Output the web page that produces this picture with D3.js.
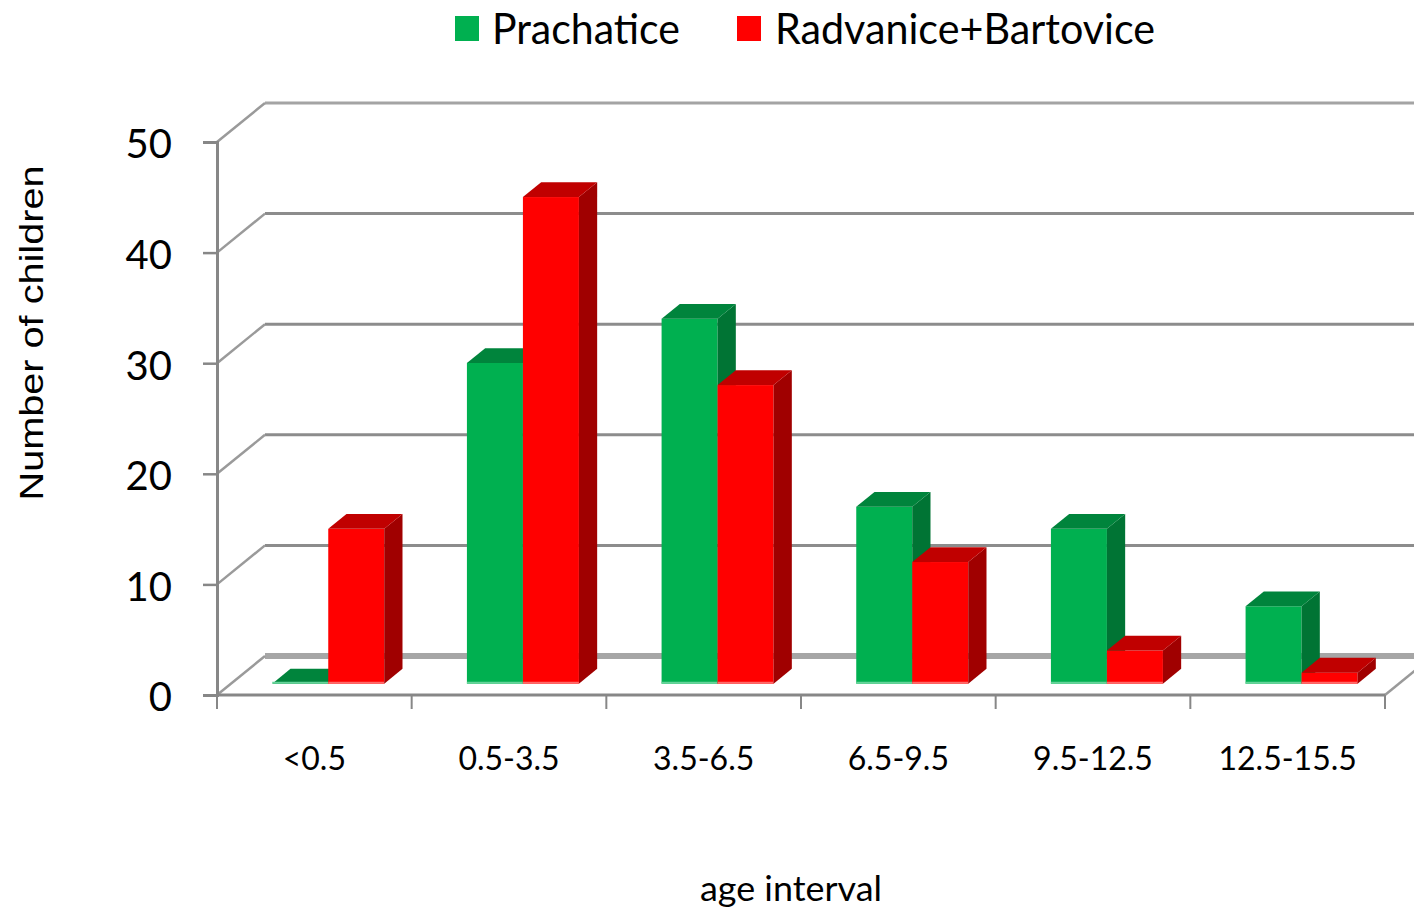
<!DOCTYPE html>
<html>
<head>
<meta charset="utf-8">
<script src="https://cdn.jsdelivr.net/npm/d3@7"></script>
<style>
  html, body { margin: 0; padding: 0; background: #fff; }
  svg { display: block; }
</style>
</head>
<body>
<svg id="chart" width="1414" height="911"></svg>
<script>
const categories = ["<0.5", "0.5-3.5", "3.5-6.5", "6.5-9.5", "9.5-12.5", "12.5-15.5"];
const seriesNames = ["Prachatice", "Radvanice+Bartovice"];
const prachatice = [0, 29, 33, 16, 14, 7];
const radvanice = [14, 44, 27, 11, 3, 1];
const yTicks = [0, 10, 20, 30, 40, 50];
const yTitle = "Number of children";
const xTitle = "age interval";

const seriesValues = [prachatice, radvanice];
const colors = {
  front: ["#00b050", "#ff0000"],
  top: ["#00843c", "#c00000"],
  side: ["#007434", "#a00000"],
  edge: ["#66d49a", "#ff6a6a"]
};

const svg = d3.select("#chart");
const W = 1414, H = 911;

// geometry of the 3D frame
const x0 = d3.scaleBand().domain(categories).range([217, 1385]).padding(0);
const x1 = d3.scaleBand().domain(seriesNames).range([0, x0.bandwidth()]).paddingInner(0).paddingOuter(0.738);
const y = d3.scaleLinear().domain([0, 50]).range([695, 142]);
const DX = 48, DY = -39;      // depth vector (front -> back wall)
const f0 = 0.29, f1 = 0.67;   // bar depth position

const grid = svg.append("g");

// back wall gridlines
yTicks.forEach(t => {
  const yy = y(t) + DY;
  grid.append("line")
    .attr("x1", x0.range()[0] + DX).attr("x2", W + 10)
    .attr("y1", yy).attr("y2", yy)
    .attr("stroke", t === 0 ? "#a6a6a6" : (t === 50 ? "#a4a4a4" : "#8c8c8c"))
    .attr("stroke-width", t === 0 ? 6 : 3);
  // left wall diagonals
  grid.append("line")
    .attr("x1", x0.range()[0]).attr("y1", y(t))
    .attr("x2", x0.range()[0] + DX).attr("y2", yy)
    .attr("stroke", "#9a9a9a").attr("stroke-width", 2.5);
});
// right floor diagonal
grid.append("line")
  .attr("x1", x0.range()[1]).attr("y1", y(0))
  .attr("x2", x0.range()[1] + DX).attr("y2", y(0) + DY)
  .attr("stroke", "#9a9a9a").attr("stroke-width", 2.5);

// front y axis
const yAxis = d3.axisLeft(y).tickValues(yTicks).tickSize(14).tickPadding(31);
const yAxisG = svg.append("g").attr("transform", `translate(${x0.range()[0]},0)`).call(yAxis);
yAxisG.select(".domain").attr("stroke", "#878787").attr("stroke-width", 3);
yAxisG.selectAll(".tick line").attr("stroke", "#878787").attr("stroke-width", 2.5);
yAxisG.selectAll(".tick text")
  .attr("font-family", "Lato, 'Open Sans', sans-serif")
  .attr("font-size", 40).attr("fill", "#000")
  .attr("y", 3);

// floor front edge + category boundary ticks
svg.append("line")
  .attr("x1", x0.range()[0]).attr("x2", x0.range()[1])
  .attr("y1", y(0)).attr("y2", y(0))
  .attr("stroke", "#878787").attr("stroke-width", 3);
const bounds = categories.map(c => x0(c)).concat([x0.range()[1]]);
svg.append("g").selectAll("line").data(bounds).join("line")
  .attr("x1", d => d).attr("x2", d => d)
  .attr("y1", y(0)).attr("y2", y(0) + 14)
  .attr("stroke", "#878787").attr("stroke-width", 2);

// category labels
const xAxis = d3.axisBottom(x0).tickSize(0).tickPadding(0);
const xAxisG = svg.append("g").attr("transform", `translate(0,${y(0)})`).call(xAxis);
xAxisG.select(".domain").remove();
xAxisG.selectAll(".tick text")
  .attr("y", 75).attr("dy", 0)
  .attr("font-family", "Lato, 'Open Sans', sans-serif")
  .attr("font-size", 32).attr("fill", "#000");

// bars
const barsG = svg.append("g");
const w = x1.bandwidth();
const ddx = DX * (f1 - f0), ddy = DY * (f1 - f0);
categories.forEach((c, i) => {
  seriesNames.forEach((s, j) => {
    const v = seriesValues[j][i];
    const xl = x0(c) + x1(s) + DX * f0;
    const yt = y(v) + DY * f0;
    const yb = y(0) + DY * f0;
    const g = barsG.append("g");
    if (v > 0) {
      g.append("rect").attr("x", xl).attr("y", yt).attr("width", w).attr("height", yb - yt)
        .attr("fill", colors.front[j]);
      g.append("line").attr("x1", xl).attr("x2", xl + w).attr("y1", yb - 1).attr("y2", yb - 1)
        .attr("stroke", colors.edge[j]).attr("stroke-width", 2);
    }
    g.append("polygon")
      .attr("points", [[xl + w, yt], [xl + w + ddx, yt + ddy], [xl + w + ddx, yb + ddy], [xl + w, yb]].map(p => p.join(",")).join(" "))
      .attr("fill", colors.side[j]);
    g.append("polygon")
      .attr("points", [[xl, yt], [xl + w, yt], [xl + w + ddx, yt + ddy], [xl + ddx, yt + ddy]].map(p => p.join(",")).join(" "))
      .attr("fill", colors.top[j]);
    if (v === 0) {
      g.append("line").attr("x1", xl).attr("x2", xl + w).attr("y1", yb - 1).attr("y2", yb - 1)
        .attr("stroke", colors.edge[j]).attr("stroke-width", 2);
    }
  });
});

// axis titles
svg.append("text")
  .attr("x", 791).attr("y", 901)
  .attr("text-anchor", "middle")
  .attr("font-family", "Lato, 'Open Sans', sans-serif")
  .attr("font-size", 35)
  .attr("textLength", 182).attr("lengthAdjust", "spacingAndGlyphs")
  .text(xTitle);

svg.append("text")
  .attr("transform", "translate(43,333) rotate(-90)")
  .attr("text-anchor", "middle")
  .attr("font-family", "'Liberation Sans', Arial, sans-serif")
  .attr("font-size", 33)
  .attr("textLength", 335).attr("lengthAdjust", "spacingAndGlyphs")
  .text(yTitle);

// legend
const legendItems = [
  { name: seriesNames[0], color: colors.front[0], sx: 455, tx: 492, tw: 188 },
  { name: seriesNames[1], color: colors.front[1], sx: 737, tx: 775, tw: 380 }
];
const lg = svg.append("g");
legendItems.forEach(it => {
  lg.append("rect").attr("x", it.sx).attr("y", 16).attr("width", 24).attr("height", 25).attr("fill", it.color);
  lg.append("text")
    .attr("x", it.tx).attr("y", 44)
    .attr("font-family", "Lato, 'Open Sans', sans-serif")
    .attr("font-size", 43)
    .attr("textLength", it.tw).attr("lengthAdjust", "spacingAndGlyphs")
    .text(it.name);
});
</script>
</body>
</html>
